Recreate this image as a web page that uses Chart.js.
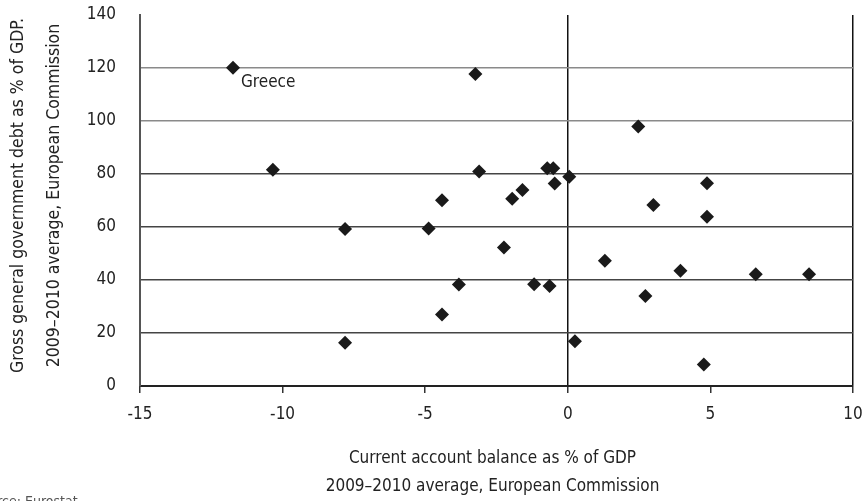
<!DOCTYPE html>
<html lang="en">
<head>
    <meta charset="UTF-8">
    <title>Current account balance vs government debt</title>
    <script src="https://cdn.jsdelivr.net/npm/chart.js"></script>
    <style>
        body {
            margin: 0;
            background: #ffffff;
        }
        canvas {
            display: block;
        }
    </style>
</head>
<body>

<canvas id="debtChart" width="862" height="501"></canvas>

<script>
    // current account balance, % of GDP (x)
    const contaCorrente = [-11.74, -10.34, -7.81, -7.81, -4.88, -4.41, -4.41, -3.82, -3.24, -3.11,
        -2.24, -1.95, -1.59, -1.18, -0.72, -0.64, -0.51, -0.46, 0.05, 0.25,
        1.30, 2.47, 2.72, 3.00, 3.95, 4.77, 4.88, 4.88, 6.59, 8.46];
    // gross government debt, % of GDP (y)
    const divida = [120.1, 81.6, 59.2, 16.3, 59.4, 70.1, 27.0, 38.3, 117.7, 80.9,
        52.3, 70.7, 74.0, 38.4, 82.2, 37.7, 82.2, 76.4, 79.0, 16.9,
        47.3, 97.9, 34.0, 68.3, 43.5, 8.1, 76.5, 63.9, 42.2, 42.2];

    const xTicks = [-15, -10, -5, 0, 5, 10];
    const yTicks = [0, 20, 40, 60, 80, 100, 120, 140];

    const rotulo = { texto: 'Greece', x: -11.74, y: 120.1 };
    const tituloX = ['Current account balance as % of GDP', '2009\u20132010 average, European Commission'];
    const tituloY = ['Gross general government debt as % of GDP.', '2009\u20132010 average, European Commission'];
    const fonte = 'Source: Eurostat';

    const FONT = '"Liberation Sans Narrow", "DejaVu Sans Condensed", Arial, sans-serif';

    const pontos = contaCorrente.map((x, i) => ({ x: x, y: divida[i] }));

    // textos extras: titulos, rotulo Greece, fonte
    const textos = {
        id: 'textos',
        afterDraw(chart) {
            const c = chart.ctx;
            const sx = chart.scales.x, sy = chart.scales.y;
            c.save();
            c.fillStyle = '#222';
            c.font = '17px ' + FONT;

            // Greece
            c.textAlign = 'left';
            c.textBaseline = 'middle';
            c.fillText(rotulo.texto, sx.getPixelForValue(rotulo.x) + 8, sy.getPixelForValue(rotulo.y) + 15);

            // titulo eixo x
            c.textAlign = 'center';
            const cx = (sx.left + sx.right) / 2 - 4;
            c.fillText(tituloX[0], cx, 459);
            c.fillText(tituloX[1], cx, 487);

            // titulo eixo y
            c.font = '17.5px ' + FONT;
            const cy = (sy.top + sy.bottom) / 2 - 5;
            c.save();
            c.translate(18, cy);
            c.rotate(-Math.PI / 2);
            c.fillText(tituloY[0], 0, 0);
            c.restore();
            c.save();
            c.translate(54, cy);
            c.rotate(-Math.PI / 2);
            c.fillText(tituloY[1], 0, 0);
            c.restore();

            // fonte (cortada na borda)
            c.font = '14px ' + FONT;
            c.fillStyle = '#555';
            c.textAlign = 'left';
            c.textBaseline = 'top';
            const w = c.measureText('Source: ').width;
            c.fillText(fonte, 25 - w, 495);
            c.restore();
        }
    };

    const ctx = document.getElementById('debtChart').getContext('2d');
    new Chart(ctx, {
        type: 'scatter',
        data: {
            datasets: [{
                data: pontos,
                pointStyle: 'rectRot',
                pointRadius: 7,
                pointHoverRadius: 7,
                backgroundColor: '#1a1a1a',
                borderColor: '#1a1a1a',
                borderWidth: 0
            }]
        },
        options: {
            responsive: false,
            animation: false,
            layout: {
                padding: { top: 15, right: 9, left: 0, bottom: 0 }
            },
            scales: {
                x: {
                    type: 'linear',
                    min: -15,
                    max: 10,
                    afterBuildTicks: (s) => { s.ticks = xTicks.map(v => ({ value: v })); },
                    afterFit: (s) => {
                        s.height = 115;
                        s.paddingLeft = 0;
                        s.paddingRight = 0;
                    },
                    border: { display: true, color: '#222', width: 2 },
                    grid: {
                        color: (c) => (c.tick && (c.tick.value === 0 || c.tick.value === 10)) ? '#111' : 'rgba(0,0,0,0)',
                        lineWidth: 1.5,
                        drawTicks: true,
                        tickLength: 7,
                        tickColor: '#333',
                        tickWidth: 1.5
                    },
                    ticks: {
                        padding: 11,
                        color: '#222',
                        font: { family: FONT, size: 17 }
                    }
                },
                y: {
                    min: 0,
                    max: 140,
                    afterBuildTicks: (s) => { s.ticks = yTicks.map(v => ({ value: v })); },
                    afterFit: (s) => {
                        s.width = 140;
                        s.paddingTop = 0;
                        s.paddingBottom = 0;
                    },
                    border: { display: true, color: '#555', width: 2 },
                    grid: {
                        color: (c) => {
                            const v = c.tick ? c.tick.value : 0;
                            if (v === 140 || v === 0) return 'rgba(0,0,0,0)';
                            return v >= 100 ? '#8a8a8a' : '#444';
                        },
                        lineWidth: 1.5,
                        drawTicks: false
                    },
                    ticks: {
                        padding: 24,
                        color: '#222',
                        font: { family: FONT, size: 17 }
                    }
                }
            },
            plugins: {
                legend: { display: false },
                tooltip: { enabled: false }
            }
        },
        plugins: [textos]
    });
</script>

</body>
</html>
